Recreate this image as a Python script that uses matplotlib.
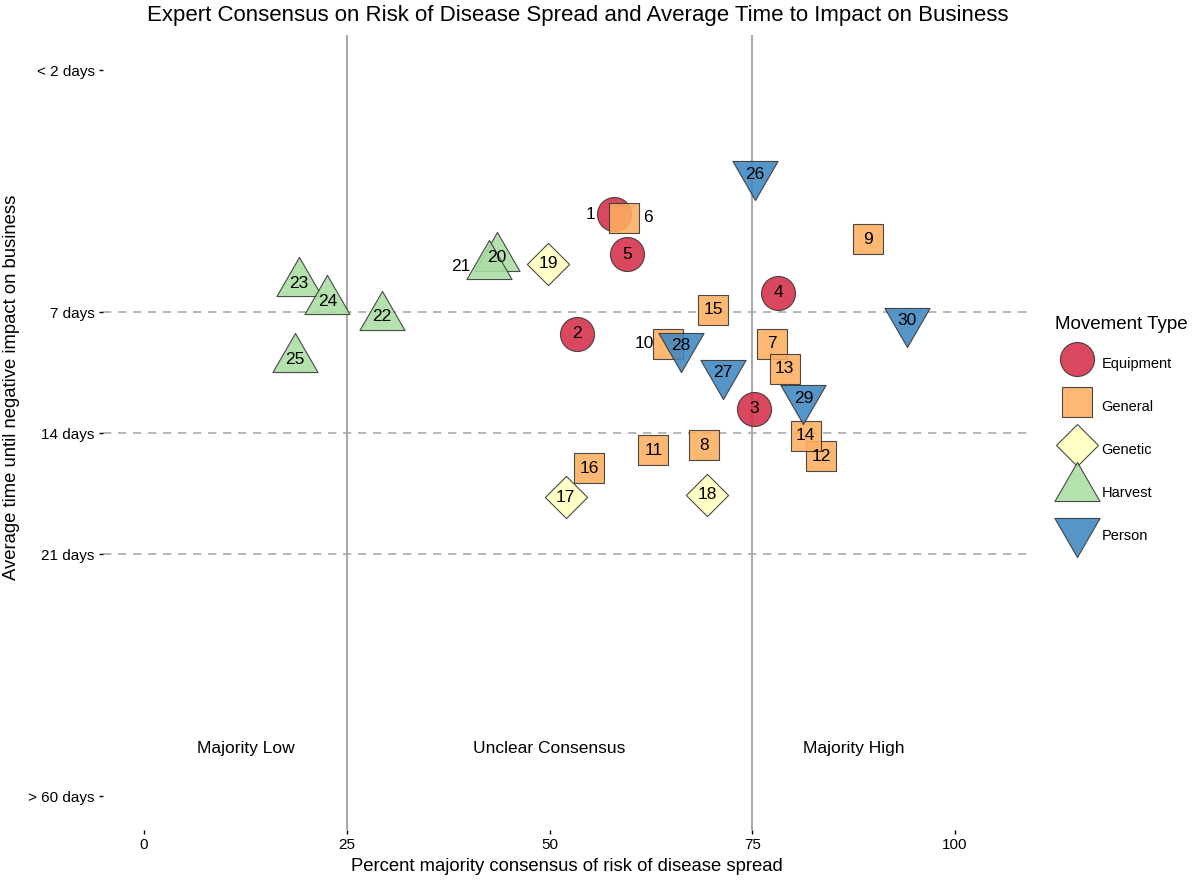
import matplotlib.pyplot as plt
from matplotlib.lines import Line2D
from matplotlib.path import Path

plt.rcParams['font.family'] = ['Liberation Sans', 'DejaVu Sans']

# y positions on the category scale: 0 = "< 2 days", 2 = 7 days, 3 = 14 days, 4 = 21 days, 6 = "> 60 days"
y_ticks = [0, 2, 3, 4, 6]
y_labels = ['< 2 days', '7 days', '14 days', '21 days', '> 60 days']
x_ticks = [0, 25, 50, 75, 100]

equip_id = [1, 2, 3, 4, 5]
equip_x = [58.0, 53.4, 75.2, 78.2, 59.6]
equip_y = [1.19, 2.18, 2.80, 1.84, 1.52]

general_id = [6, 7, 8, 9, 10, 11, 12, 13, 14, 15, 16]
general_x = [59.2, 77.4, 69.1, 89.3, 64.6, 62.8, 83.5, 79.0, 81.6, 70.2, 54.9]
general_y = [1.22, 2.26, 3.10, 1.40, 2.26, 3.14, 3.19, 2.47, 3.02, 1.98, 3.29]

genetic_id = [17, 18, 19]
genetic_x = [52.0, 69.4, 49.8]
genetic_y = [3.53, 3.51, 1.60]

harvest_id = [20, 21, 22, 23, 24, 25]
harvest_x = [43.5, 42.5, 29.3, 19.1, 22.6, 18.6]
harvest_y = [1.55, 1.62, 2.04, 1.76, 1.91, 2.39]

person_id = [26, 27, 28, 29, 30]
person_x = [75.3, 71.4, 66.2, 81.3, 94.1]
person_y = [0.86, 2.50, 2.28, 2.71, 2.07]

# labels that sit beside their marker instead of on it (offset in points)
label_shift = {1: -17, 6: 17, 10: -17, 21: -20}

regions = ['Majority Low', 'Unclear Consensus', 'Majority High']
region_x = [12.5, 50, 87.5]

# equilateral triangles centred on the centroid
h = 3 ** 0.5 / 2
tri_up = Path([(0, 2 * h / 3), (-0.5, -h / 3), (0.5, -h / 3), (0, 2 * h / 3)], closed=True)
tri_dn = Path([(0, -2 * h / 3), (-0.5, h / 3), (0.5, h / 3), (0, -2 * h / 3)], closed=True)

groups = [
    ('Equipment', equip_id, equip_x, equip_y, 'o', 24.5, '#D42E48'),
    ('General', general_id, general_x, general_y, 's', 22, '#FDAE61'),
    ('Genetic', genetic_id, genetic_x, genetic_y, 'D', 21.5, '#FFFFBF'),
    ('Harvest', harvest_id, harvest_x, harvest_y, tri_up, 32.5 / h, '#ABDDA4'),
    ('Person', person_id, person_x, person_y, tri_dn, 32.5 / h, '#3F86C0'),
]

fig = plt.figure(figsize=(11.92, 8.81), dpi=100)
ax = fig.add_axes([103 / 1192, 1 - 830 / 881, (1030 - 103) / 1192, (830 - 35) / 881])

for yy in [2, 3, 4]:
    ax.axhline(yy, color='#aaaaaa', lw=1.2, ls=(0, (5, 4)), zorder=1)
for xx in [25, 75]:
    ax.axvline(xx, color='#aaaaaa', lw=1.5, zorder=1)

handles = []
for name, ids, xs, ys, mk, ms, col in groups:
    ax.scatter(xs, ys, s=ms ** 2, marker=mk, c=col, edgecolors='#333333',
               linewidths=0.8, alpha=0.88, zorder=3)
    for i, x, y in zip(ids, xs, ys):
        dx = label_shift.get(i, 0)
        ax.annotate(str(i), (x, y), xytext=(dx, 0), textcoords='offset points',
                    ha='center', va='center', fontsize=12.5, color='black', zorder=4)
    handles.append(Line2D([], [], ls='none', marker=mk, markersize=ms,
                          markerfacecolor=col, markeredgecolor='#333333',
                          markeredgewidth=0.8, alpha=0.88, label=name))

for t, x in zip(regions, region_x):
    ax.text(x, 5.61, t, ha='center', va='center', fontsize=12.5)

ax.set_xlim(-5.06, 109.25)
ax.set_ylim(6.28, -0.29)
ax.set_xticks(x_ticks)
ax.set_yticks(y_ticks)
ax.set_yticklabels(y_labels)
for s in ax.spines.values():
    s.set_visible(False)
ax.tick_params(axis='both', length=3, width=1, labelsize=11, pad=3)

ax.set_xlabel('Percent majority consensus of risk of disease spread', fontsize=13.3, labelpad=4)
ax.set_ylabel('Average time until negative impact on business', fontsize=13.3)
ax.yaxis.set_label_coords(-0.0895, 0.557)
ax.set_title('Expert Consensus on Risk of Disease Spread and Average Time to Impact on Business',
             fontsize=16, pad=10, x=0.512)

leg = ax.legend(handles=handles, title='Movement Type', loc='center left',
                bbox_to_anchor=(1.027, 0.5), frameon=False, fontsize=10.5,
                title_fontsize=13.5, handlelength=3.0, handleheight=2.4,
                labelspacing=1.15, handletextpad=0.2, borderaxespad=0, borderpad=0)
leg._legend_box.align = 'left'

fig.savefig('out.png', dpi=100)
